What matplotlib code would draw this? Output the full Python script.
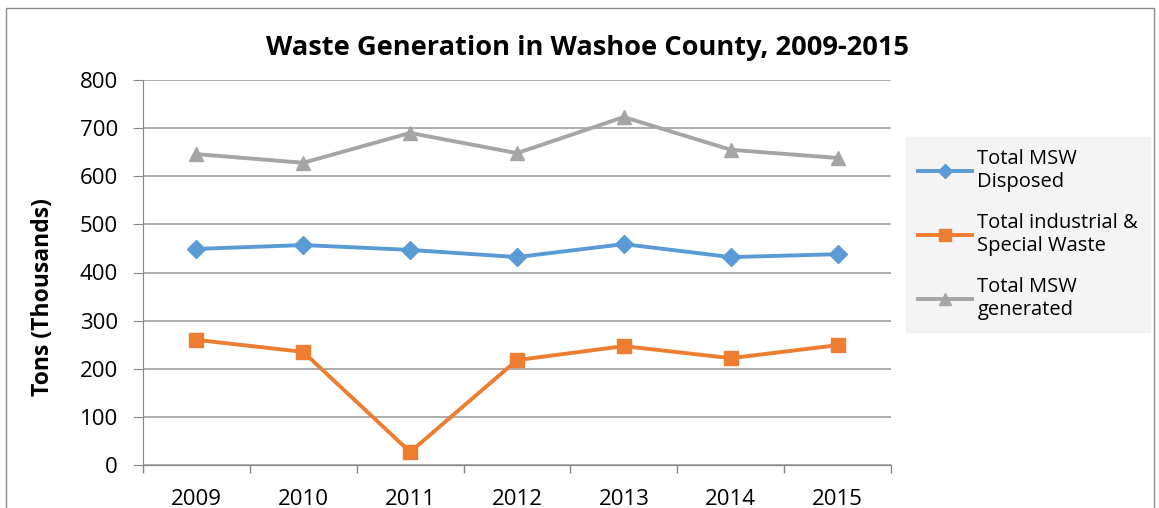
import matplotlib.pyplot as plt
from matplotlib.patches import Rectangle

years = ["2009", "2010", "2011", "2012", "2013", "2014", "2015"]
msw_disposed = [449, 457, 447, 432, 459, 432, 438]
industrial_special = [260, 235, 27, 218, 247, 222, 249]
msw_generated = [646, 628, 690, 648, 723, 655, 638]

plt.rcParams['font.family'] = ['Open Sans', 'DejaVu Sans']

fig = plt.figure(figsize=(11.59, 5.08), dpi=100)
ax = fig.add_axes([143 / 1159, 1 - 465 / 508, 748 / 1159, 385 / 508])

x = list(range(len(years)))
ax.plot(x, msw_disposed, color="#5B9BD5", lw=2.8, marker="D", ms=9, label="Total MSW\nDisposed")
ax.plot(x, industrial_special, color="#ED7D31", lw=2.8, marker="s", ms=10, label="Total industrial &\nSpecial Waste")
ax.plot(x, msw_generated, color="#A5A5A5", lw=2.8, marker="^", ms=10, label="Total MSW\ngenerated")

ax.set_xlim(-0.5, len(years) - 0.5)
ax.set_ylim(0, 800)
ax.set_yticks(range(0, 801, 100))
ax.set_xticks(x)
ax.set_xticklabels(years, fontsize=16)
ax.tick_params(axis="x", length=0, pad=17)
ax.set_xticks([i - 0.5 for i in range(len(years) + 1)], minor=True)
ax.tick_params(axis="x", which="minor", length=6, color="#868686", width=1)
ax.tick_params(axis="y", labelsize=16, length=7, color="#868686", pad=11)
ax.grid(axis="y", color="#9E9E9E", lw=1.2)
ax.set_axisbelow(True)
for side in ["top", "right"]:
    ax.spines[side].set_visible(False)
ax.spines["left"].set_color("#868686")
ax.spines["bottom"].set_color("#868686")

ax.set_ylabel("Tons (Thousands)", fontsize=16.5, fontweight="bold")
ax.yaxis.set_label_coords((55 - 143) / 748, 0.436)
fig.text(588 / 1159, 1 - 48 / 508, "Waste Generation in Washoe County, 2009-2015",
         ha="center", va="center", fontsize=19.6, fontweight="bold")

leg = fig.legend(loc="upper left", bbox_to_anchor=(906 / 1159, 1 - 137 / 508),
                 borderaxespad=0, fontsize=14.5, frameon=True, fancybox=False,
                 labelspacing=1.05, handlelength=2.7, handletextpad=0.25,
                 borderpad=0.6, markerscale=0.8)
leg.get_frame().set_facecolor("#F2F2F2")
leg.get_frame().set_edgecolor("#F2F2F2")

# outer chart border
fig.patches.append(Rectangle((6 / 1159, -0.05), 1148 / 1159, 1 - 8 / 508 + 0.05,
                             transform=fig.transFigure, fill=False, ec="#8C8C8C", lw=1))

fig.savefig("out.png", dpi=100)
